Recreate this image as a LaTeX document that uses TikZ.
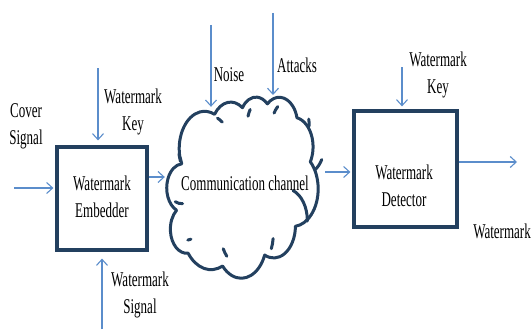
\documentclass[tikz,border=0pt]{standalone}
\usepackage{fontspec}
\setmainfont{Liberation Serif}[FakeStretch=0.62]
\usetikzlibrary{arrows.meta}
\definecolor{navy}{HTML}{23405F}
\definecolor{arr}{HTML}{5B8DCB}
\tikzset{
  lbl/.style={align=center,inner sep=0pt,font=\fontsize{21}{27}\selectfont},
  blk/.style={draw=navy,line width=3.2pt,fill=white,inner sep=0pt},
  cloudline/.style={draw=navy,line width=3pt,line join=round},
  flow/.style={draw=arr,line width=1.1pt,-{Straight Barb[length=6pt,width=11pt,line width=1.1pt]}}
}
\begin{document}
\begin{tikzpicture}[x=1pt,y=-1pt]
\useasboundingbox (0,0) rectangle (532,329);
% blocks
\node[blk,minimum width=90pt,minimum height=103pt] (emb) at (102,198.5) {};
\node[lbl] (embt) at (102,197) {Watermark\\Embedder};
% cloud (outline drawn directly)
\begin{scope}[shift={(165,97)},x=0.375pt,y=-0.4074pt]
\draw[cloudline,fill=white] (39,143.7)
  arc[start angle=-190.49,delta angle=123.78,x radius=67.53,y radius=91.90]
  arc[start angle=-144.10,delta angle=89.95,x radius=53.33,y radius=72.67]
  arc[start angle=-145.81,delta angle=99.72,x radius=43.65,y radius=59.45]
  arc[start angle=-130.99,delta angle=117.24,x radius=48.57,y radius=65.95]
  arc[start angle=-78.71,delta angle=109.03,x radius=53.33,y radius=72.73]
  arc[start angle=-46.27,delta angle=130.27,x radius=67.75,y radius=92.20]
  arc[start angle=0.625,delta angle=114.03,x radius=57.85,y radius=78.67]
  arc[start angle=22.45,delta angle=115.17,x radius=67.52,y radius=92.15]
  arc[start angle=66.24,delta angle=75.71,x radius=77.20,y radius=105.43]
  arc[start angle=-274.94,delta angle=146.74,x radius=43.60,y radius=59.18]
  arc[start angle=-246.83,delta angle=152.52,x radius=43.45,y radius=59.45]
  -- cycle;
\draw[cloudline,line cap=round]
  (46.93,261.77) arc[start angle=86.74,delta angle=26.43,x radius=43.45,y radius=59.45]
  (69.28,348.99) arc[start angle=73.61,delta angle=11.45,x radius=43.60,y radius=59.18]
  (164.78,390.90) arc[start angle=137.62,delta angle=14.08,x radius=67.52,y radius=92.15]
  (288.27,347.51) arc[start angle=6.45,delta angle=16.00,x radius=67.52,y radius=92.15]
  (341.29,229.54) arc[start angle=-70.29,delta angle=70.92,x radius=57.85,y radius=78.67]
  (417.98,153.54) arc[start angle=30.32,delta angle=27.75,x radius=53.33,y radius=72.73]
  (383.24,54.26) arc[start angle=-13.74,delta angle=14.86,x radius=48.57,y radius=65.95]
  (290.78,39.52) arc[start angle=-149.18,delta angle=18.20,x radius=48.57,y radius=65.95]
  (221.41,47.20) arc[start angle=-163.49,delta angle=17.69,x radius=43.65,y radius=59.45]
  (140.00,51.92) arc[start angle=-66.71,delta angle=12.32,x radius=67.53,y radius=91.90]
  (41.27,157.89) arc[start angle=157.65,delta angle=11.86,x radius=67.53,y radius=91.90];
\end{scope}
\node[minimum width=162pt,minimum height=176pt,inner sep=0pt] (chb) at (246,185) {};
\node[lbl] (ch) at (245,183) {Communication channel};
\node[blk,minimum width=103pt,minimum height=116pt] (det) at (405.5,169) {};
\node[lbl] (dett) at (404,186) {Watermark\\Detector};
% labels
\node[lbl] (cov) at (26,126.5) {Cover\\Signal};
\node[lbl] (k1) at (133,112) {Watermark\\Key};
\node[lbl] (sig) at (140,294.5) {Watermark\\Signal};
\node[lbl] (noise) at (229,75) {Noise};
\node[lbl] (att) at (297,65) {Attacks};
\node[lbl] (k2) at (438,75) {Watermark\\Key};
\node[lbl] (out) at (502,231) {Watermark};
% free ends
\coordinate (covs) at (14,188);
\coordinate (k1s) at (98,68);
\coordinate (sigs) at (102,329);
\coordinate (noises) at (211,25);
\coordinate (atts) at (273,13);
\coordinate (k2s) at (402,67);
\coordinate (oute) at (517,162);
% connectors
\draw[flow,shorten >=2pt] (covs) -- (covs -| emb.west);
\draw[flow,shorten >=5pt] (k1s) -- (k1s |- emb.north);
\draw[flow,shorten >=7pt] (sigs) -- (sigs |- emb.south);
\draw[flow] (emb.east |- 0,177) -- (chb.west |- 0,177);
\draw[flow,shorten >=-10pt] (noises) -- (noises |- chb.north);
\draw[flow] (atts) -- (atts |- 0,95);
\draw[flow,shorten <=-2pt,shorten >=2pt] (chb.east |- 0,172) -- (det.west |- 0,172);
\draw[flow,shorten >=3pt] (k2s) -- (k2s |- det.north);
\draw[flow] (det.east |- oute) -- (oute);
\end{tikzpicture}
\end{document}
